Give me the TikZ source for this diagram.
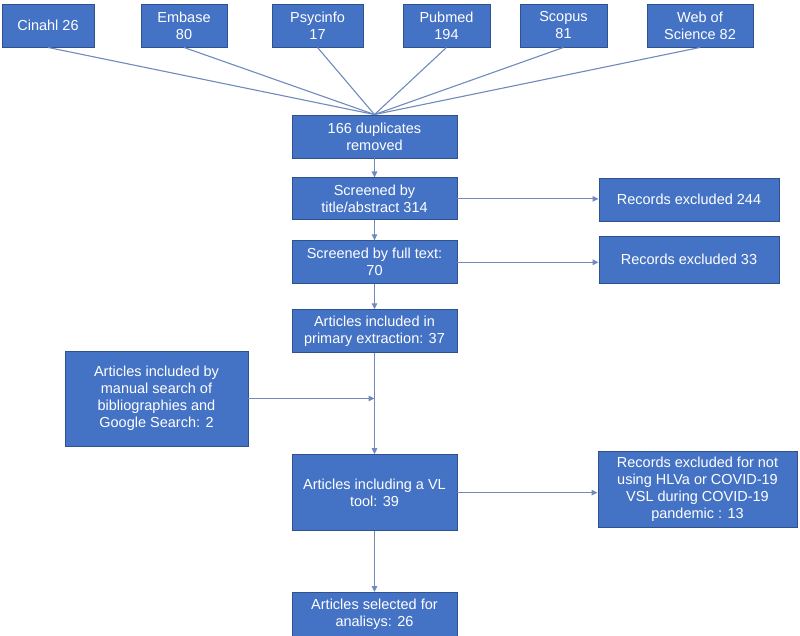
\documentclass[tikz,border=0pt]{standalone}
\usepackage{fontspec}
\setmainfont{Liberation Sans}
\usepackage{xcolor}
\usepackage{tikz}
\usetikzlibrary{arrows.meta,positioning}
\definecolor{boxfill}{RGB}{68,114,196}
\definecolor{boxline}{RGB}{47,82,143}
\definecolor{linkcol}{RGB}{112,138,188}
\begin{document}
\begin{tikzpicture}[
  x=1pt, y=-1pt,
  font=\fontsize{14.5}{17}\selectfont,
  box/.style={draw=boxline, line width=0.9pt, fill=boxfill, text=white,
              align=center, inner sep=2pt, minimum height=43pt},
  src/.style={box, minimum height=43pt},
  flow/.style={box, minimum width=165pt},
  side/.style={box, minimum width=180pt},
  link/.style={linkcol, line width=1.1pt},
  arr/.style={link, -{Triangle[length=6pt,width=5.5pt]}}
]
\useasboundingbox (0,0) rectangle (800,635);
% databases
\node[src, minimum width=92pt]  (cin) at (48,25.5)    {Cinahl 26};
\node[src, minimum width=86pt]  (emb) at (184,25.5)   {Embase\\80};
\node[src, minimum width=91pt]  (psy) at (317.5,25.5) {Psycinfo\\17};
\node[src, minimum width=87pt]  (pub) at (446.5,25.5) {Pubmed\\194};
\node[src, minimum width=87pt]  (sco) at (563.5,25.5) {Scopus\\81};
\node[src, minimum width=106pt] (wos) at (700,25.5)   {Web of\\Science 82};
% main column
\node[flow] (dup) at (374.5,136.5) {166 duplicates\\removed};
\node[flow, below=19pt of dup, minimum height=42pt] (tit) {Screened by\\title/abstract 314};
\node[flow, below=20pt of tit] (ful) {Screened by full text:\\70};
\node[flow, below=25pt of ful] (inc) {Articles included in\\primary extraction: 37};
\node[flow, below=101pt of inc, minimum height=76pt] (vl) {Articles including a VL\\tool: 39};
\node[flow, below=61pt of vl, minimum height=44pt] (sel) {Articles selected for\\analisys: 26};
% exclusions
\node[side] (ex1) at (689,199.5) {Records excluded 244};
\node[side, minimum height=47pt] (ex2) at (689,259.5) {Records excluded 33};
\node[box, minimum width=199pt, minimum height=76pt] (ex3) at (697.5,489)
      {Records excluded for not\\using HLVa or COVID-19\\VSL during COVID-19\\pandemic : 13};
% manual search
\node[box, minimum width=183pt, minimum height=95pt] (man) at (156.5,398.5)
      {Articles included by\\manual search of\\bibliographies and\\Google Search: 2};
\coordinate (join) at (inc.south |- man.east);
% links
\foreach \s in {cin,emb,psy,pub,sco,wos}\draw[link] (\s.south) -- (dup.north);
\foreach \a/\b in {dup/tit,tit/ful,ful/inc,inc/vl,vl/sel}\draw[arr] (\a) -- (\b);
\draw[arr] (tit.east) -- (tit.east -| ex1.west);
\draw[arr] (ful.east) -- (ful.east -| ex2.west);
\draw[arr] (vl.east) -- (vl.east -| ex3.west);
\draw[arr] (man.east) -- (join);
\end{tikzpicture}
\end{document}
